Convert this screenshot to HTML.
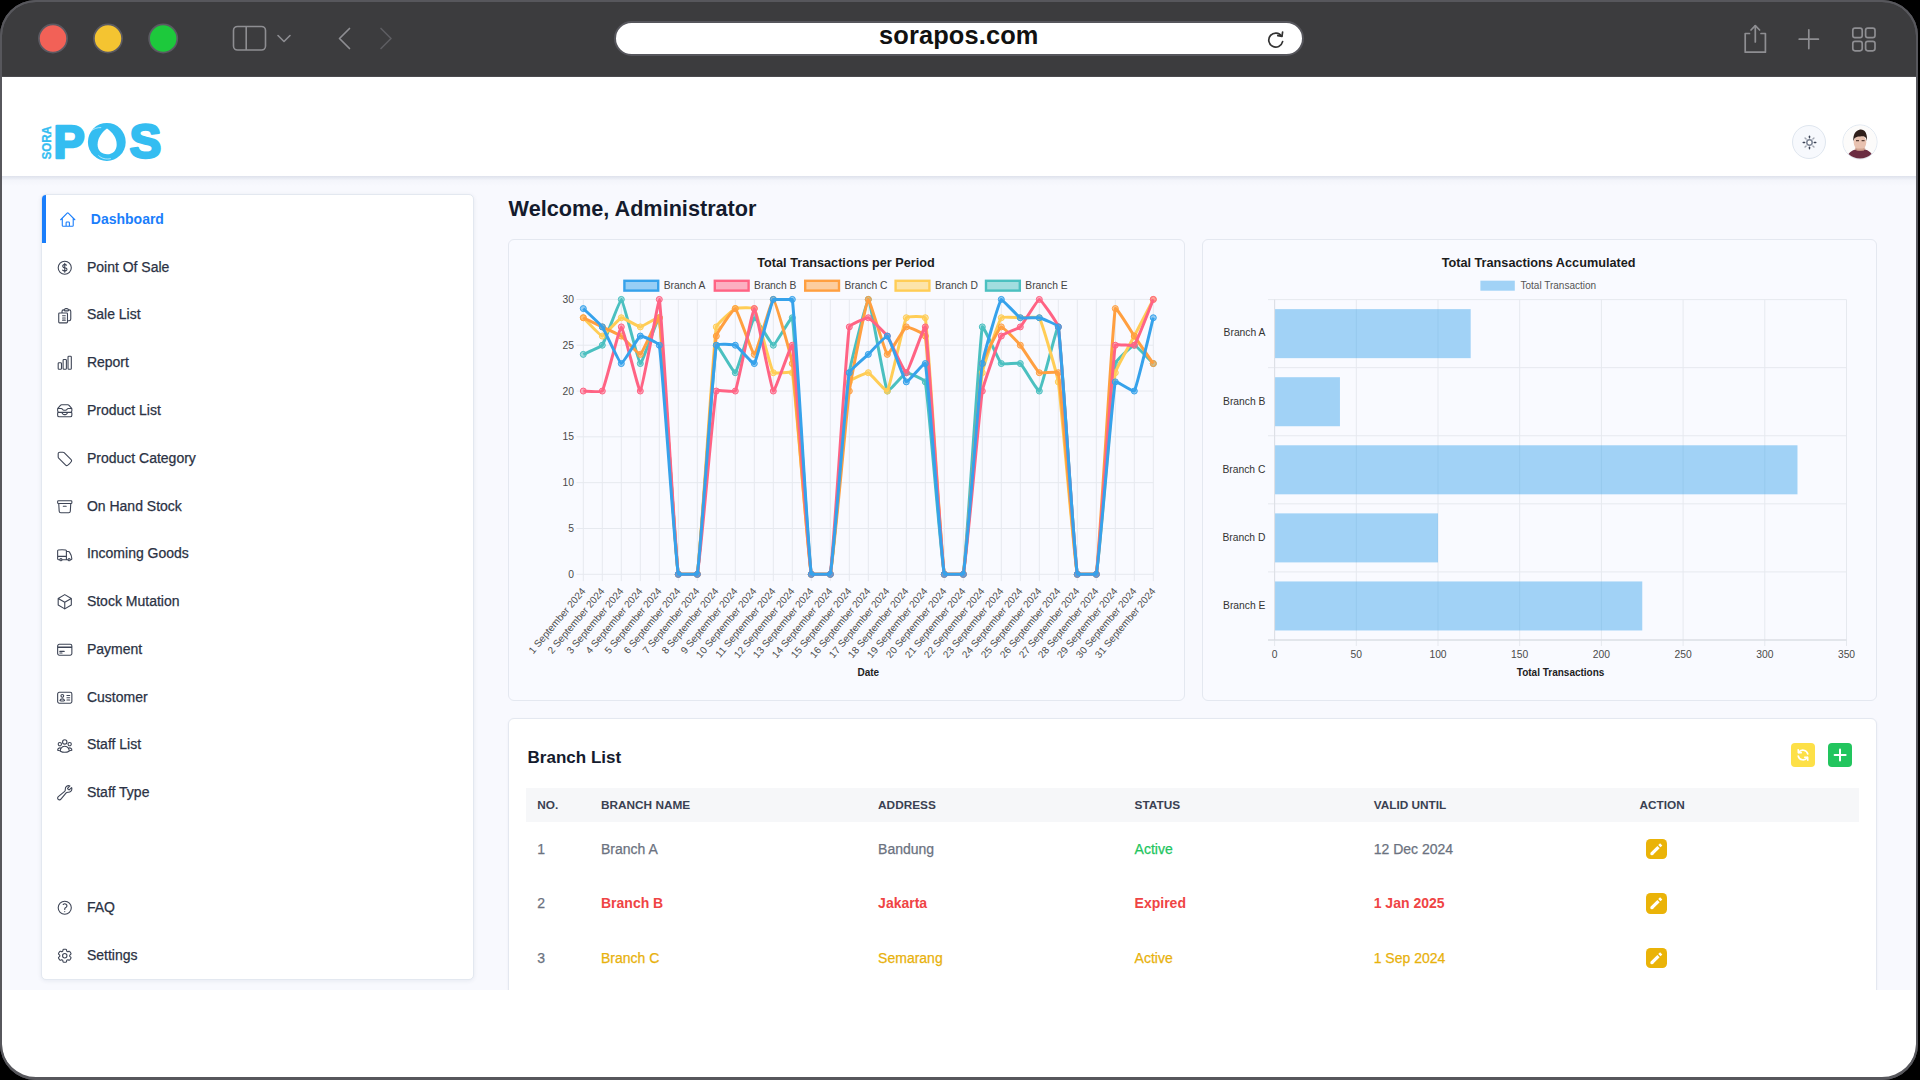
<!DOCTYPE html>
<html><head><meta charset="utf-8"><title>SoraPOS Dashboard</title>
<style>
*{margin:0;padding:0;box-sizing:border-box}
html,body{width:1920px;height:1080px;overflow:hidden;background:#000}
body{font-family:"Liberation Sans",sans-serif;position:relative}
.a{position:absolute}
.t{position:absolute;white-space:nowrap}
.r{-webkit-text-stroke:0.25px currentColor}
#frame{position:absolute;left:0;top:0;width:1918px;height:1080px;border-radius:36px;background:#3c3c3e;overflow:hidden;border:2px solid #57575c}
</style></head><body>
<div id="frame"></div>

<div class="a" style="left:2px;top:77px;width:1914px;height:1001px;background:#fff;border-bottom-left-radius:34px;border-bottom-right-radius:34px"></div>
<div class="a" style="left:2px;top:76px;width:1914px;height:1px;background:#4a4a4e"></div>
<svg class="a" style="left:0px;top:0px;" width="200" height="77" viewBox="0 0 200 77"><circle cx="53" cy="38.5" r="14.1" fill="#f26157" stroke="#5b5a62" stroke-width="1.7"/><circle cx="108" cy="38.5" r="14.1" fill="#f4c431" stroke="#5b5a62" stroke-width="1.7"/><circle cx="163.2" cy="38.5" r="14.1" fill="#1dc93c" stroke="#5b5a62" stroke-width="1.7"/></svg>
<svg class="a" style="left:230px;top:22px;" width="64" height="32" viewBox="0 0 64 32">
<rect x="3.5" y="4.5" width="32" height="23.5" rx="4" fill="none" stroke="#8e8e92" stroke-width="1.6"/>
<line x1="16.2" y1="4.5" x2="16.2" y2="28" stroke="#8e8e92" stroke-width="1.6"/>
<polyline points="48,13.5 54,19.5 60,13.5" fill="none" stroke="#8e8e92" stroke-width="1.6" stroke-linecap="round" stroke-linejoin="round"/>
</svg>
<svg class="a" style="left:330px;top:22px;" width="70" height="32" viewBox="0 0 70 32">
<polyline points="19.5,6.5 9.5,16.5 19.5,26.5" fill="none" stroke="#8e8e92" stroke-width="1.7" stroke-linecap="round" stroke-linejoin="round"/>
<polyline points="51,6.5 61,16.5 51,26.5" fill="none" stroke="#5d5d61" stroke-width="1.7" stroke-linecap="round" stroke-linejoin="round"/>
</svg>
<div class="a" style="left:614px;top:21px;width:690px;height:34.5px;border-radius:17.5px;background:#fff;border:2px solid #56565c"></div>
<div class="t" style="left:879px;top:20px;font-size:25.4px;line-height:30px;font-weight:700;color:#111;letter-spacing:0.14px">sorapos.com</div>
<svg class="a" style="left:1264px;top:27px;" width="24" height="24" viewBox="0 0 24 24">
<path d="M17.6 9.2 A7 7 0 1 0 18.6 14.6" fill="none" stroke="#333" stroke-width="1.7" stroke-linecap="round"/>
<polyline points="13.8,8.6 18.0,9.4 18.6,5.0" fill="none" stroke="#333" stroke-width="1.7" stroke-linecap="round" stroke-linejoin="round"/>
</svg>
<svg class="a" style="left:1740px;top:20px;" width="150" height="40" viewBox="0 0 150 40">
<g fill="none" stroke="#8e8e92" stroke-width="1.7" stroke-linecap="round" stroke-linejoin="round">
<path d="M9.5 13.5 H5.2 V32.2 H25.4 V13.5 H21"/>
<line x1="15.3" y1="5.8" x2="15.3" y2="22"/>
<polyline points="11,10 15.3,5.6 19.6,10"/>
<line x1="68.8" y1="9.8" x2="68.8" y2="28.6"/>
<line x1="59.2" y1="19.2" x2="78.4" y2="19.2"/>
<rect x="112.8" y="8.2" width="9.4" height="9.4" rx="2.2"/>
<rect x="125.6" y="8.2" width="9.4" height="9.4" rx="2.2"/>
<rect x="112.8" y="21.4" width="9.4" height="9.4" rx="2.2"/>
<rect x="125.6" y="21.4" width="9.4" height="9.4" rx="2.2"/>
</g></svg>
<div class="a" style="left:2px;top:176px;width:1914px;height:814px;background:#f8f9fe"></div>
<div class="a" style="left:2px;top:176px;width:1914px;height:10px;background:linear-gradient(to bottom, rgba(200,206,220,0.55), rgba(230,233,242,0.25) 45%, rgba(248,249,254,0))"></div>
<svg class="a" style="left:38px;top:118px;" width="130" height="48" viewBox="0 0 130 48">
<g transform="translate(13.4,41.6) rotate(-90)">
 <text x="0" y="0" font-family="Liberation Sans" font-size="13.6" font-weight="700" fill="#34bdf1" stroke="#34bdf1" stroke-width="0.3" textLength="33.6" lengthAdjust="spacingAndGlyphs">SORA</text>
</g>
<text x="15.5" y="39.7" font-family="Liberation Sans" font-size="47" font-weight="700" fill="#34bdf1" stroke="#34bdf1" stroke-width="2.6" stroke-linejoin="round" textLength="31.2" lengthAdjust="spacingAndGlyphs">P</text>
<ellipse cx="68.8" cy="23.9" rx="18.9" ry="19" fill="#34bdf1"/>
<path d="M69 10.6 C 63.5 14.5, 59.6 20.5, 59.6 26.8 C 59.6 32.6, 63.6 36.2, 69.2 36.2 C 74.8 36.2, 78.7 32.4, 78.7 26.4 C 78.7 20.2, 74.6 14.4, 69 10.6 Z" fill="#fff"/>
<path d="M52.6 13.6 C 55.4 10.6, 59.4 9.4, 63.2 9.6" fill="none" stroke="#fff" stroke-width="0.8" opacity="0.75"/>
<path d="M60.4 37.4 C 63.6 40.6, 68 41.6, 72.8 40.6" fill="none" stroke="#fff" stroke-width="0.8" opacity="0.75"/>
<text x="91.6" y="39.8" font-family="Liberation Sans" font-size="47.5" font-weight="700" fill="#34bdf1" stroke="#34bdf1" stroke-width="2.5" stroke-linejoin="round" textLength="31.8" lengthAdjust="spacingAndGlyphs">S</text>
</svg>
<div class="a" style="left:1792px;top:125px;width:34px;height:34px;border-radius:50%;background:#f7f9fd;border:1px solid #dfe6ef"></div>
<svg class="a" style="left:1795px;top:128px;" width="28" height="28" viewBox="0 0 28 28"><circle cx="14.5" cy="14.5" r="2.7" fill="#fff" stroke="#7c8494" stroke-width="1.5"/><line x1="19.30" y1="14.50" x2="20.80" y2="14.50" stroke="#3c4456" stroke-width="1.4" stroke-linecap="round" opacity="1"/><line x1="17.89" y1="17.89" x2="18.95" y2="18.95" stroke="#3c4456" stroke-width="1.4" stroke-linecap="round" opacity="0.45"/><line x1="14.50" y1="19.30" x2="14.50" y2="20.80" stroke="#3c4456" stroke-width="1.4" stroke-linecap="round" opacity="1"/><line x1="11.11" y1="17.89" x2="10.05" y2="18.95" stroke="#3c4456" stroke-width="1.4" stroke-linecap="round" opacity="0.45"/><line x1="9.70" y1="14.50" x2="8.20" y2="14.50" stroke="#3c4456" stroke-width="1.4" stroke-linecap="round" opacity="1"/><line x1="11.11" y1="11.11" x2="10.05" y2="10.05" stroke="#3c4456" stroke-width="1.4" stroke-linecap="round" opacity="0.45"/><line x1="14.50" y1="9.70" x2="14.50" y2="8.20" stroke="#3c4456" stroke-width="1.4" stroke-linecap="round" opacity="1"/><line x1="17.89" y1="11.11" x2="18.95" y2="10.05" stroke="#3c4456" stroke-width="1.4" stroke-linecap="round" opacity="0.45"/></svg>
<svg class="a" style="left:1842px;top:124px;" width="36" height="36" viewBox="0 0 36 36">
<defs><clipPath id="av"><circle cx="18" cy="18" r="16.6"/></clipPath></defs>
<circle cx="18" cy="18" r="17" fill="#fff" stroke="#dde5ef" stroke-width="1"/>
<g clip-path="url(#av)">
 <rect x="0" y="0" width="36" height="36" fill="#fcfbfa"/>
 <path d="M4.5 36 C 5 29.5, 9.5 26, 14.5 25.2 L 22 25.2 C 27 26, 31 29.5, 31.6 36 Z" fill="#6b2d42"/>
 <rect x="14.6" y="20" width="7.4" height="6.4" fill="#d6a48f"/>
 <ellipse cx="18" cy="18.6" rx="6.3" ry="7.6" fill="#e8c2b0"/>
 <path d="M12.6 25.2 C 14.6 27.6, 21.6 27.6, 23.6 25.2 L 22.6 23.4 C 20.6 25, 15.6 25, 13.6 23.4 Z" fill="#c99a86" opacity="0.7"/>
 <path d="M11.4 17.6 C 10.8 10.6, 13.8 6.2, 18.2 5.6 C 22.4 5.2, 25.6 8.6, 25 17.4 C 24.4 13.2, 23.2 12, 18.2 12.4 C 13.4 12.6, 12.2 13.6, 11.4 17.6 Z" fill="#2f1f1a"/>
 <path d="M14 16.6 h3 M19.6 16.6 h3" stroke="#5a4036" stroke-width="1.1"/>
</g></svg>
<div class="a" style="left:41px;top:194px;width:433px;height:786px;background:#fff;border:1px solid #e3e8f0;border-radius:5px;box-shadow:0 1px 4px rgba(30,50,90,0.08)"></div>
<div class="a" style="left:42px;top:195px;width:3.6px;height:48px;background:#1a7efb;border-top-left-radius:4px"></div>
<svg class="a" style="left:58.80px;top:211.20px" width="17.5" height="17.5" viewBox="0 0 24 24" fill="none" stroke="#1a7efb" stroke-width="1.5" stroke-linecap="round" stroke-linejoin="round"><path d="M2.25 12 11.204 3.045c.44-.439 1.152-.439 1.591 0L21.75 12M4.5 9.75v10.125c0 .621.504 1.125 1.125 1.125H9.75v-4.875c0-.621.504-1.125 1.125-1.125h2.25c.621 0 1.125.504 1.125 1.125V21h4.125c.621 0 1.125-.504 1.125-1.125V9.75M8.25 21h8.25"/></svg>
<div class="t " style="left:90.80px;top:209.95px;font-size:14px;line-height:18px;color:#1a7efb;font-weight:700;">Dashboard</div>
<svg class="a" style="left:55.60px;top:258.96px" width="17.5" height="17.5" viewBox="0 0 24 24" fill="none" stroke="#3e4556" stroke-width="1.5" stroke-linecap="round" stroke-linejoin="round"><path d="M12 6v12m-3-2.818.879.659c1.171.879 3.07.879 4.242 0 1.172-.879 1.172-2.303 0-3.182C13.536 12.219 12.768 12 12 12c-.725 0-1.45-.22-2.003-.659-1.106-.879-1.106-2.303 0-3.182s2.9-.879 4.006 0l.415.33M21 12a9 9 0 1 1-18 0 9 9 0 0 1 18 0Z"/></svg>
<div class="t r" style="left:86.90px;top:257.71px;font-size:14px;line-height:18px;color:#2b3244;">Point Of Sale</div>
<svg class="a" style="left:55.60px;top:306.72px" width="17.5" height="17.5" viewBox="0 0 24 24" fill="none" stroke="#3e4556" stroke-width="1.5" stroke-linecap="round" stroke-linejoin="round"><path d="M9 12h3.75M9 15h3.75M9 18h3.75m3 .75H18a2.25 2.25 0 0 0 2.25-2.25V6.108c0-1.135-.845-2.098-1.976-2.192a48.424 48.424 0 0 0-1.123-.08m-5.801 0c-.065.21-.1.433-.1.664 0 .414.336.75.75.75h4.5a.75.75 0 0 0 .75-.75 2.25 2.25 0 0 0-.1-.664m-5.8 0A2.251 2.251 0 0 1 13.5 2.25H15c1.012 0 1.867.668 2.15 1.586m-5.8 0c-.376.023-.75.05-1.124.08C9.095 4.01 8.25 4.973 8.25 6.108V8.25m0 0H4.875c-.621 0-1.125.504-1.125 1.125v11.25c0 .621.504 1.125 1.125 1.125h9.75c.621 0 1.125-.504 1.125-1.125V9.375c0-.621-.504-1.125-1.125-1.125H8.25Z"/></svg>
<div class="t r" style="left:86.90px;top:305.47px;font-size:14px;line-height:18px;color:#2b3244;">Sale List</div>
<svg class="a" style="left:55.60px;top:354.48px" width="17.5" height="17.5" viewBox="0 0 24 24" fill="none" stroke="#3e4556" stroke-width="1.5" stroke-linecap="round" stroke-linejoin="round"><path d="M3 13.125C3 12.504 3.504 12 4.125 12h2.25c.621 0 1.125.504 1.125 1.125v6.75C7.5 20.496 6.996 21 6.375 21h-2.25A1.125 1.125 0 0 1 3 19.875v-6.75ZM9.75 8.625c0-.621.504-1.125 1.125-1.125h2.25c.621 0 1.125.504 1.125 1.125v11.25c0 .621-.504 1.125-1.125 1.125h-2.25a1.125 1.125 0 0 1-1.125-1.125V8.625ZM16.5 4.125c0-.621.504-1.125 1.125-1.125h2.25C20.496 3 21 3.504 21 4.125v15.75c0 .621-.504 1.125-1.125 1.125h-2.25a1.125 1.125 0 0 1-1.125-1.125V4.125Z"/></svg>
<div class="t r" style="left:86.90px;top:353.23px;font-size:14px;line-height:18px;color:#2b3244;">Report</div>
<svg class="a" style="left:55.60px;top:402.24px" width="17.5" height="17.5" viewBox="0 0 24 24" fill="none" stroke="#3e4556" stroke-width="1.5" stroke-linecap="round" stroke-linejoin="round"><path d="m7.875 14.25 1.214 1.942a2.25 2.25 0 0 0 1.908 1.058h2.006c.776 0 1.497-.4 1.908-1.058l1.214-1.942M2.41 9h4.636a2.25 2.25 0 0 1 1.872 1.002l.164.246a2.25 2.25 0 0 0 1.872 1.002h2.092a2.25 2.25 0 0 0 1.872-1.002l.164-.246A2.25 2.25 0 0 1 16.954 9h4.636M2.41 9a2.25 2.25 0 0 0-.16.832V12a2.25 2.25 0 0 0 2.25 2.25h15A2.25 2.25 0 0 0 21.75 12V9.832c0-.287-.055-.57-.16-.832M2.41 9a2.25 2.25 0 0 1 .382-.632l3.285-3.832a2.25 2.25 0 0 1 1.708-.786h8.43c.657 0 1.281.287 1.709.786l3.284 3.832c.163.19.291.404.382.632M4.5 20.25h15A2.25 2.25 0 0 0 21.75 18v-2.625c0-.621-.504-1.125-1.125-1.125H3.375c-.621 0-1.125.504-1.125 1.125V18a2.25 2.25 0 0 0 2.25 2.25Z"/></svg>
<div class="t r" style="left:86.90px;top:400.99px;font-size:14px;line-height:18px;color:#2b3244;">Product List</div>
<svg class="a" style="left:55.60px;top:450.00px" width="17.5" height="17.5" viewBox="0 0 24 24" fill="none" stroke="#3e4556" stroke-width="1.5" stroke-linecap="round" stroke-linejoin="round"><path d="M9.568 3H5.25A2.25 2.25 0 0 0 3 5.25v4.318c0 .597.237 1.17.659 1.591l9.581 9.581c.699.699 1.78.872 2.607.33a18.095 18.095 0 0 0 5.223-5.223c.542-.827.369-1.908-.33-2.607L11.16 3.66A2.25 2.25 0 0 0 9.568 3Z"/></svg>
<div class="t r" style="left:86.90px;top:448.75px;font-size:14px;line-height:18px;color:#2b3244;">Product Category</div>
<svg class="a" style="left:55.60px;top:497.76px" width="17.5" height="17.5" viewBox="0 0 24 24" fill="none" stroke="#3e4556" stroke-width="1.5" stroke-linecap="round" stroke-linejoin="round"><path d="m20.25 7.5-.625 10.632a2.25 2.25 0 0 1-2.247 2.118H6.622a2.25 2.25 0 0 1-2.247-2.118L3.75 7.5M10 11.25h4M3.375 7.5h17.25c.621 0 1.125-.504 1.125-1.125v-1.5c0-.621-.504-1.125-1.125-1.125H3.375c-.621 0-1.125.504-1.125 1.125v1.5c0 .621.504 1.125 1.125 1.125Z"/></svg>
<div class="t r" style="left:86.90px;top:496.51px;font-size:14px;line-height:18px;color:#2b3244;">On Hand Stock</div>
<svg class="a" style="left:55.60px;top:545.52px" width="17.5" height="17.5" viewBox="0 0 24 24" fill="none" stroke="#3e4556" stroke-width="1.5" stroke-linecap="round" stroke-linejoin="round"><path d="M8.25 18.75a1.5 1.5 0 0 1-3 0m3 0a1.5 1.5 0 0 0-3 0m3 0h6m-9 0H3.375a1.125 1.125 0 0 1-1.125-1.125V14.25m17.25 4.5a1.5 1.5 0 0 1-3 0m3 0a1.5 1.5 0 0 0-3 0m3 0h1.125c.621 0 1.129-.504 1.09-1.124a17.902 17.902 0 0 0-3.213-9.193 2.056 2.056 0 0 0-1.58-.86H14.25M16.5 18.75h-2.25m0-11.177v-.958c0-.568-.422-1.048-.987-1.106a48.554 48.554 0 0 0-10.026 0 1.106 1.106 0 0 0-.987 1.106v7.635m12-6.677v6.677m0 4.5v-4.5m0 0h-12"/></svg>
<div class="t r" style="left:86.90px;top:544.27px;font-size:14px;line-height:18px;color:#2b3244;">Incoming Goods</div>
<svg class="a" style="left:55.60px;top:593.28px" width="17.5" height="17.5" viewBox="0 0 24 24" fill="none" stroke="#3e4556" stroke-width="1.5" stroke-linecap="round" stroke-linejoin="round"><path d="m21 7.5-9-5.25L3 7.5m18 0-9 5.25m9-5.25v9l-9 5.25M3 7.5l9 5.25M3 7.5v9l9 5.25m0-9v9"/></svg>
<div class="t r" style="left:86.90px;top:592.03px;font-size:14px;line-height:18px;color:#2b3244;">Stock Mutation</div>
<svg class="a" style="left:55.60px;top:641.04px" width="17.5" height="17.5" viewBox="0 0 24 24" fill="none" stroke="#3e4556" stroke-width="1.5" stroke-linecap="round" stroke-linejoin="round"><path d="M2.25 8.25h19.5M2.25 9h19.5m-16.5 5.25h6m-6 2.25h3m-3.75 3h15a2.25 2.25 0 0 0 2.25-2.25V6.75A2.25 2.25 0 0 0 19.5 4.5h-15a2.25 2.25 0 0 0-2.25 2.25v10.5A2.25 2.25 0 0 0 4.5 19.5Z"/></svg>
<div class="t r" style="left:86.90px;top:639.79px;font-size:14px;line-height:18px;color:#2b3244;">Payment</div>
<svg class="a" style="left:55.60px;top:688.80px" width="17.5" height="17.5" viewBox="0 0 24 24" fill="none" stroke="#3e4556" stroke-width="1.5" stroke-linecap="round" stroke-linejoin="round"><path d="M15 9h3.75M15 12h3.75M15 15h3.75M4.5 19.5h15a2.25 2.25 0 0 0 2.25-2.25V6.75A2.25 2.25 0 0 0 19.5 4.5h-15a2.25 2.25 0 0 0-2.25 2.25v10.5A2.25 2.25 0 0 0 4.5 19.5Zm6-10.125a1.875 1.875 0 1 1-3.75 0 1.875 1.875 0 0 1 3.75 0Zm1.294 6.336a6.721 6.721 0 0 1-3.17.789 6.721 6.721 0 0 1-3.168-.789 3.376 3.376 0 0 1 6.338 0Z"/></svg>
<div class="t r" style="left:86.90px;top:687.55px;font-size:14px;line-height:18px;color:#2b3244;">Customer</div>
<svg class="a" style="left:55.60px;top:736.56px" width="17.5" height="17.5" viewBox="0 0 24 24" fill="none" stroke="#3e4556" stroke-width="1.5" stroke-linecap="round" stroke-linejoin="round"><path d="M18 18.72a9.094 9.094 0 0 0 3.741-.479 3 3 0 0 0-4.682-2.72m.94 3.198.001.031c0 .225-.012.447-.037.666A11.944 11.944 0 0 1 12 21c-2.17 0-4.207-.576-5.963-1.584A6.062 6.062 0 0 1 6 18.719m12 0a5.971 5.971 0 0 0-.941-3.197m0 0A5.995 5.995 0 0 0 12 12.75a5.995 5.995 0 0 0-5.058 2.772m0 0a3 3 0 0 0-4.681 2.72 8.986 8.986 0 0 0 3.74.477m.94-3.197a5.971 5.971 0 0 0-.94 3.197M15 6.75a3 3 0 1 1-6 0 3 3 0 0 1 6 0Zm6 3a2.25 2.25 0 1 1-4.5 0 2.25 2.25 0 0 1 4.5 0Zm-13.5 0a2.25 2.25 0 1 1-4.5 0 2.25 2.25 0 0 1 4.5 0Z"/></svg>
<div class="t r" style="left:86.90px;top:735.31px;font-size:14px;line-height:18px;color:#2b3244;">Staff List</div>
<svg class="a" style="left:55.60px;top:784.32px" width="17.5" height="17.5" viewBox="0 0 24 24" fill="none" stroke="#3e4556" stroke-width="1.5" stroke-linecap="round" stroke-linejoin="round"><path d="M21.75 6.75a4.5 4.5 0 0 1-4.884 4.484c-1.076-.091-2.264.071-2.95.904l-7.152 8.684a2.548 2.548 0 1 1-3.586-3.586l8.684-7.152c.833-.686.995-1.874.904-2.95a4.5 4.5 0 0 1 6.336-4.486l-3.276 3.276a3.004 3.004 0 0 0 2.25 2.25l3.276-3.276c.256.565.398 1.192.398 1.852Z"/></svg>
<div class="t r" style="left:86.90px;top:783.07px;font-size:14px;line-height:18px;color:#2b3244;">Staff Type</div>
<svg class="a" style="left:55.60px;top:898.85px" width="17.5" height="17.5" viewBox="0 0 24 24" fill="none" stroke="#3e4556" stroke-width="1.5" stroke-linecap="round" stroke-linejoin="round"><path d="M9.879 7.519c1.171-1.025 3.071-1.025 4.242 0 1.172 1.025 1.172 2.687 0 3.712-.203.179-.43.326-.67.442-.745.361-1.45.999-1.45 1.827v.75M21 12a9 9 0 1 1-18 0 9 9 0 0 1 18 0Zm-9 5.25h.008v.008H12v-.008Z"/></svg>
<div class="t r" style="left:86.90px;top:897.60px;font-size:14px;line-height:18px;color:#2b3244;">FAQ</div>
<svg class="a" style="left:55.60px;top:946.75px" width="17.5" height="17.5" viewBox="0 0 24 24" fill="none" stroke="#3e4556" stroke-width="1.5" stroke-linecap="round" stroke-linejoin="round"><path d="M9.594 3.94c.09-.542.56-.94 1.11-.94h2.593c.55 0 1.02.398 1.11.94l.213 1.281c.063.374.313.686.645.87.074.04.147.083.22.127.325.196.72.257 1.075.124l1.217-.456a1.125 1.125 0 0 1 1.37.49l1.296 2.247a1.125 1.125 0 0 1-.26 1.431l-1.003.827c-.293.241-.438.613-.43.992a7.723 7.723 0 0 1 0 .255c-.008.378.137.75.43.991l1.004.827c.424.35.534.955.26 1.43l-1.298 2.247a1.125 1.125 0 0 1-1.369.491l-1.217-.456c-.355-.133-.75-.072-1.076.124a6.47 6.47 0 0 1-.22.128c-.331.183-.581.495-.644.869l-.213 1.281c-.09.543-.56.94-1.11.94h-2.594c-.55 0-1.019-.398-1.11-.94l-.213-1.281c-.062-.374-.312-.686-.644-.87a6.52 6.52 0 0 1-.22-.127c-.325-.196-.72-.257-1.076-.124l-1.217.456a1.125 1.125 0 0 1-1.369-.49l-1.297-2.247a1.125 1.125 0 0 1 .26-1.431l1.004-.827c.292-.24.437-.613.43-.991a6.932 6.932 0 0 1 0-.255c.007-.38-.138-.751-.43-.992l-1.004-.827a1.125 1.125 0 0 1-.26-1.43l1.297-2.247a1.125 1.125 0 0 1 1.37-.491l1.216.456c.356.133.751.072 1.076-.124.072-.044.146-.086.22-.128.332-.183.582-.495.644-.869l.214-1.28ZM15 12a3 3 0 1 1-6 0 3 3 0 0 1 6 0Z"/></svg>
<div class="t r" style="left:86.90px;top:945.50px;font-size:14px;line-height:18px;color:#2b3244;">Settings</div>
<div class="t " style="left:508.60px;top:195.10px;font-size:21.67px;line-height:28px;color:#141b2d;font-weight:700;">Welcome, Administrator</div>
<div class="a" style="left:508px;top:239px;width:676.5px;height:462px;border:1px solid #e4e8f0;border-radius:6px;background:#f9faff"></div>
<div class="a" style="left:1202px;top:239px;width:674.5px;height:462px;border:1px solid #e4e8f0;border-radius:6px;background:#f9faff"></div>
<svg class="a" style="left:0;top:0" width="1920" height="1080" viewBox="0 0 1920 1080" font-family="Liberation Sans, sans-serif"><line x1="576.5" y1="574.30" x2="1153.3" y2="574.30" stroke="#e6e9ef" stroke-width="1"/><text x="574.0" y="577.84" text-anchor="end" font-size="10.3" fill="#4a4a4a">0</text><line x1="576.5" y1="528.48" x2="1153.3" y2="528.48" stroke="#e6e9ef" stroke-width="1"/><text x="574.0" y="532.03" text-anchor="end" font-size="10.3" fill="#4a4a4a">5</text><line x1="576.5" y1="482.67" x2="1153.3" y2="482.67" stroke="#e6e9ef" stroke-width="1"/><text x="574.0" y="486.21" text-anchor="end" font-size="10.3" fill="#4a4a4a">10</text><line x1="576.5" y1="436.85" x2="1153.3" y2="436.85" stroke="#e6e9ef" stroke-width="1"/><text x="574.0" y="440.40" text-anchor="end" font-size="10.3" fill="#4a4a4a">15</text><line x1="576.5" y1="391.04" x2="1153.3" y2="391.04" stroke="#e6e9ef" stroke-width="1"/><text x="574.0" y="394.58" text-anchor="end" font-size="10.3" fill="#4a4a4a">20</text><line x1="576.5" y1="345.22" x2="1153.3" y2="345.22" stroke="#e6e9ef" stroke-width="1"/><text x="574.0" y="348.77" text-anchor="end" font-size="10.3" fill="#4a4a4a">25</text><line x1="576.5" y1="299.41" x2="1153.3" y2="299.41" stroke="#e6e9ef" stroke-width="1"/><text x="574.0" y="302.95" text-anchor="end" font-size="10.3" fill="#4a4a4a">30</text><line x1="583.30" y1="299.41" x2="583.30" y2="581.10" stroke="#e6e9ef" stroke-width="1"/><text transform="translate(583.40,589.20) rotate(-50)" x="0" y="3.44" text-anchor="end" font-size="10" fill="#4a4a4a">1 September 2024</text><line x1="602.30" y1="299.41" x2="602.30" y2="581.10" stroke="#e6e9ef" stroke-width="1"/><text transform="translate(602.40,589.20) rotate(-50)" x="0" y="3.44" text-anchor="end" font-size="10" fill="#4a4a4a">2 September 2024</text><line x1="621.30" y1="299.41" x2="621.30" y2="581.10" stroke="#e6e9ef" stroke-width="1"/><text transform="translate(621.40,589.20) rotate(-50)" x="0" y="3.44" text-anchor="end" font-size="10" fill="#4a4a4a">3 September 2024</text><line x1="640.30" y1="299.41" x2="640.30" y2="581.10" stroke="#e6e9ef" stroke-width="1"/><text transform="translate(640.40,589.20) rotate(-50)" x="0" y="3.44" text-anchor="end" font-size="10" fill="#4a4a4a">4 September 2024</text><line x1="659.30" y1="299.41" x2="659.30" y2="581.10" stroke="#e6e9ef" stroke-width="1"/><text transform="translate(659.40,589.20) rotate(-50)" x="0" y="3.44" text-anchor="end" font-size="10" fill="#4a4a4a">5 September 2024</text><line x1="678.30" y1="299.41" x2="678.30" y2="581.10" stroke="#e6e9ef" stroke-width="1"/><text transform="translate(678.40,589.20) rotate(-50)" x="0" y="3.44" text-anchor="end" font-size="10" fill="#4a4a4a">6 September 2024</text><line x1="697.30" y1="299.41" x2="697.30" y2="581.10" stroke="#e6e9ef" stroke-width="1"/><text transform="translate(697.40,589.20) rotate(-50)" x="0" y="3.44" text-anchor="end" font-size="10" fill="#4a4a4a">7 September 2024</text><line x1="716.30" y1="299.41" x2="716.30" y2="581.10" stroke="#e6e9ef" stroke-width="1"/><text transform="translate(716.40,589.20) rotate(-50)" x="0" y="3.44" text-anchor="end" font-size="10" fill="#4a4a4a">8 September 2024</text><line x1="735.30" y1="299.41" x2="735.30" y2="581.10" stroke="#e6e9ef" stroke-width="1"/><text transform="translate(735.40,589.20) rotate(-50)" x="0" y="3.44" text-anchor="end" font-size="10" fill="#4a4a4a">9 September 2024</text><line x1="754.30" y1="299.41" x2="754.30" y2="581.10" stroke="#e6e9ef" stroke-width="1"/><text transform="translate(754.40,589.20) rotate(-50)" x="0" y="3.44" text-anchor="end" font-size="10" fill="#4a4a4a">10 September 2024</text><line x1="773.30" y1="299.41" x2="773.30" y2="581.10" stroke="#e6e9ef" stroke-width="1"/><text transform="translate(773.40,589.20) rotate(-50)" x="0" y="3.44" text-anchor="end" font-size="10" fill="#4a4a4a">11 September 2024</text><line x1="792.30" y1="299.41" x2="792.30" y2="581.10" stroke="#e6e9ef" stroke-width="1"/><text transform="translate(792.40,589.20) rotate(-50)" x="0" y="3.44" text-anchor="end" font-size="10" fill="#4a4a4a">12 September 2024</text><line x1="811.30" y1="299.41" x2="811.30" y2="581.10" stroke="#e6e9ef" stroke-width="1"/><text transform="translate(811.40,589.20) rotate(-50)" x="0" y="3.44" text-anchor="end" font-size="10" fill="#4a4a4a">13 September 2024</text><line x1="830.30" y1="299.41" x2="830.30" y2="581.10" stroke="#e6e9ef" stroke-width="1"/><text transform="translate(830.40,589.20) rotate(-50)" x="0" y="3.44" text-anchor="end" font-size="10" fill="#4a4a4a">14 September 2024</text><line x1="849.30" y1="299.41" x2="849.30" y2="581.10" stroke="#e6e9ef" stroke-width="1"/><text transform="translate(849.40,589.20) rotate(-50)" x="0" y="3.44" text-anchor="end" font-size="10" fill="#4a4a4a">15 September 2024</text><line x1="868.30" y1="299.41" x2="868.30" y2="581.10" stroke="#e6e9ef" stroke-width="1"/><text transform="translate(868.40,589.20) rotate(-50)" x="0" y="3.44" text-anchor="end" font-size="10" fill="#4a4a4a">16 September 2024</text><line x1="887.30" y1="299.41" x2="887.30" y2="581.10" stroke="#e6e9ef" stroke-width="1"/><text transform="translate(887.40,589.20) rotate(-50)" x="0" y="3.44" text-anchor="end" font-size="10" fill="#4a4a4a">17 September 2024</text><line x1="906.30" y1="299.41" x2="906.30" y2="581.10" stroke="#e6e9ef" stroke-width="1"/><text transform="translate(906.40,589.20) rotate(-50)" x="0" y="3.44" text-anchor="end" font-size="10" fill="#4a4a4a">18 September 2024</text><line x1="925.30" y1="299.41" x2="925.30" y2="581.10" stroke="#e6e9ef" stroke-width="1"/><text transform="translate(925.40,589.20) rotate(-50)" x="0" y="3.44" text-anchor="end" font-size="10" fill="#4a4a4a">19 September 2024</text><line x1="944.30" y1="299.41" x2="944.30" y2="581.10" stroke="#e6e9ef" stroke-width="1"/><text transform="translate(944.40,589.20) rotate(-50)" x="0" y="3.44" text-anchor="end" font-size="10" fill="#4a4a4a">20 September 2024</text><line x1="963.30" y1="299.41" x2="963.30" y2="581.10" stroke="#e6e9ef" stroke-width="1"/><text transform="translate(963.40,589.20) rotate(-50)" x="0" y="3.44" text-anchor="end" font-size="10" fill="#4a4a4a">21 September 2024</text><line x1="982.30" y1="299.41" x2="982.30" y2="581.10" stroke="#e6e9ef" stroke-width="1"/><text transform="translate(982.40,589.20) rotate(-50)" x="0" y="3.44" text-anchor="end" font-size="10" fill="#4a4a4a">22 September 2024</text><line x1="1001.30" y1="299.41" x2="1001.30" y2="581.10" stroke="#e6e9ef" stroke-width="1"/><text transform="translate(1001.40,589.20) rotate(-50)" x="0" y="3.44" text-anchor="end" font-size="10" fill="#4a4a4a">23 September 2024</text><line x1="1020.30" y1="299.41" x2="1020.30" y2="581.10" stroke="#e6e9ef" stroke-width="1"/><text transform="translate(1020.40,589.20) rotate(-50)" x="0" y="3.44" text-anchor="end" font-size="10" fill="#4a4a4a">24 September 2024</text><line x1="1039.30" y1="299.41" x2="1039.30" y2="581.10" stroke="#e6e9ef" stroke-width="1"/><text transform="translate(1039.40,589.20) rotate(-50)" x="0" y="3.44" text-anchor="end" font-size="10" fill="#4a4a4a">25 September 2024</text><line x1="1058.30" y1="299.41" x2="1058.30" y2="581.10" stroke="#e6e9ef" stroke-width="1"/><text transform="translate(1058.40,589.20) rotate(-50)" x="0" y="3.44" text-anchor="end" font-size="10" fill="#4a4a4a">26 September 2024</text><line x1="1077.30" y1="299.41" x2="1077.30" y2="581.10" stroke="#e6e9ef" stroke-width="1"/><text transform="translate(1077.40,589.20) rotate(-50)" x="0" y="3.44" text-anchor="end" font-size="10" fill="#4a4a4a">27 September 2024</text><line x1="1096.30" y1="299.41" x2="1096.30" y2="581.10" stroke="#e6e9ef" stroke-width="1"/><text transform="translate(1096.40,589.20) rotate(-50)" x="0" y="3.44" text-anchor="end" font-size="10" fill="#4a4a4a">28 September 2024</text><line x1="1115.30" y1="299.41" x2="1115.30" y2="581.10" stroke="#e6e9ef" stroke-width="1"/><text transform="translate(1115.40,589.20) rotate(-50)" x="0" y="3.44" text-anchor="end" font-size="10" fill="#4a4a4a">29 September 2024</text><line x1="1134.30" y1="299.41" x2="1134.30" y2="581.10" stroke="#e6e9ef" stroke-width="1"/><text transform="translate(1134.40,589.20) rotate(-50)" x="0" y="3.44" text-anchor="end" font-size="10" fill="#4a4a4a">30 September 2024</text><line x1="1153.30" y1="299.41" x2="1153.30" y2="581.10" stroke="#e6e9ef" stroke-width="1"/><text transform="translate(1153.40,589.20) rotate(-50)" x="0" y="3.44" text-anchor="end" font-size="10" fill="#4a4a4a">31 September 2024</text><path d="M583.30,354.39 C585.20,353.47 601.17,346.87 602.30,345.22 C604.97,341.37 619.68,299.41 621.30,299.41 C623.48,300.46 638.12,362.50 640.30,363.55 C641.92,364.33 658.69,314.33 659.30,317.74 C662.49,335.40 674.76,550.41 678.30,574.30 C678.56,574.30 697.01,574.30 697.30,574.30 C700.81,553.14 712.98,362.82 716.30,345.22 C716.78,342.67 733.91,373.72 735.30,372.71 C737.71,370.97 751.89,319.48 754.30,317.74 C755.69,316.73 771.40,345.22 773.30,345.22 C775.20,345.22 791.86,315.10 792.30,317.74 C795.66,338.01 807.76,550.41 811.30,574.30 C811.56,574.30 829.97,574.30 830.30,574.30 C833.77,555.87 846.53,392.72 849.30,372.71 C850.33,365.23 866.60,299.41 868.30,299.41 C870.40,300.42 884.34,385.32 887.30,391.04 C888.14,392.65 904.19,373.22 906.30,372.71 C907.99,372.31 924.93,379.89 925.30,381.88 C928.73,400.05 940.84,556.78 944.30,574.30 C944.64,574.30 963.03,574.30 963.30,574.30 C966.83,551.32 979.04,344.97 982.30,326.90 C982.84,323.89 998.70,361.04 1001.30,363.55 C1002.50,364.71 1018.92,362.55 1020.30,363.55 C1022.72,365.30 1038.03,392.26 1039.30,391.04 C1041.83,388.60 1057.49,323.01 1058.30,326.90 C1061.29,341.33 1073.77,551.32 1077.30,574.30 C1077.57,574.30 1095.99,574.30 1096.30,574.30 C1099.79,554.96 1111.92,383.92 1115.30,363.55 C1115.72,361.01 1132.40,345.22 1134.30,345.22 C1136.20,345.22 1151.40,361.72 1153.30,363.55" fill="none" stroke="rgb(75,192,192)" stroke-width="3" stroke-linejoin="round"/><circle cx="583.30" cy="354.39" r="3" fill="rgba(75,192,192,0.5)" stroke="rgb(75,192,192)" stroke-width="1"/><circle cx="602.30" cy="345.22" r="3" fill="rgba(75,192,192,0.5)" stroke="rgb(75,192,192)" stroke-width="1"/><circle cx="621.30" cy="299.41" r="3" fill="rgba(75,192,192,0.5)" stroke="rgb(75,192,192)" stroke-width="1"/><circle cx="640.30" cy="363.55" r="3" fill="rgba(75,192,192,0.5)" stroke="rgb(75,192,192)" stroke-width="1"/><circle cx="659.30" cy="317.74" r="3" fill="rgba(75,192,192,0.5)" stroke="rgb(75,192,192)" stroke-width="1"/><circle cx="678.30" cy="574.30" r="3" fill="rgba(75,192,192,0.5)" stroke="rgb(75,192,192)" stroke-width="1"/><circle cx="697.30" cy="574.30" r="3" fill="rgba(75,192,192,0.5)" stroke="rgb(75,192,192)" stroke-width="1"/><circle cx="716.30" cy="345.22" r="3" fill="rgba(75,192,192,0.5)" stroke="rgb(75,192,192)" stroke-width="1"/><circle cx="735.30" cy="372.71" r="3" fill="rgba(75,192,192,0.5)" stroke="rgb(75,192,192)" stroke-width="1"/><circle cx="754.30" cy="317.74" r="3" fill="rgba(75,192,192,0.5)" stroke="rgb(75,192,192)" stroke-width="1"/><circle cx="773.30" cy="345.22" r="3" fill="rgba(75,192,192,0.5)" stroke="rgb(75,192,192)" stroke-width="1"/><circle cx="792.30" cy="317.74" r="3" fill="rgba(75,192,192,0.5)" stroke="rgb(75,192,192)" stroke-width="1"/><circle cx="811.30" cy="574.30" r="3" fill="rgba(75,192,192,0.5)" stroke="rgb(75,192,192)" stroke-width="1"/><circle cx="830.30" cy="574.30" r="3" fill="rgba(75,192,192,0.5)" stroke="rgb(75,192,192)" stroke-width="1"/><circle cx="849.30" cy="372.71" r="3" fill="rgba(75,192,192,0.5)" stroke="rgb(75,192,192)" stroke-width="1"/><circle cx="868.30" cy="299.41" r="3" fill="rgba(75,192,192,0.5)" stroke="rgb(75,192,192)" stroke-width="1"/><circle cx="887.30" cy="391.04" r="3" fill="rgba(75,192,192,0.5)" stroke="rgb(75,192,192)" stroke-width="1"/><circle cx="906.30" cy="372.71" r="3" fill="rgba(75,192,192,0.5)" stroke="rgb(75,192,192)" stroke-width="1"/><circle cx="925.30" cy="381.88" r="3" fill="rgba(75,192,192,0.5)" stroke="rgb(75,192,192)" stroke-width="1"/><circle cx="944.30" cy="574.30" r="3" fill="rgba(75,192,192,0.5)" stroke="rgb(75,192,192)" stroke-width="1"/><circle cx="963.30" cy="574.30" r="3" fill="rgba(75,192,192,0.5)" stroke="rgb(75,192,192)" stroke-width="1"/><circle cx="982.30" cy="326.90" r="3" fill="rgba(75,192,192,0.5)" stroke="rgb(75,192,192)" stroke-width="1"/><circle cx="1001.30" cy="363.55" r="3" fill="rgba(75,192,192,0.5)" stroke="rgb(75,192,192)" stroke-width="1"/><circle cx="1020.30" cy="363.55" r="3" fill="rgba(75,192,192,0.5)" stroke="rgb(75,192,192)" stroke-width="1"/><circle cx="1039.30" cy="391.04" r="3" fill="rgba(75,192,192,0.5)" stroke="rgb(75,192,192)" stroke-width="1"/><circle cx="1058.30" cy="326.90" r="3" fill="rgba(75,192,192,0.5)" stroke="rgb(75,192,192)" stroke-width="1"/><circle cx="1077.30" cy="574.30" r="3" fill="rgba(75,192,192,0.5)" stroke="rgb(75,192,192)" stroke-width="1"/><circle cx="1096.30" cy="574.30" r="3" fill="rgba(75,192,192,0.5)" stroke="rgb(75,192,192)" stroke-width="1"/><circle cx="1115.30" cy="363.55" r="3" fill="rgba(75,192,192,0.5)" stroke="rgb(75,192,192)" stroke-width="1"/><circle cx="1134.30" cy="345.22" r="3" fill="rgba(75,192,192,0.5)" stroke="rgb(75,192,192)" stroke-width="1"/><circle cx="1153.30" cy="363.55" r="3" fill="rgba(75,192,192,0.5)" stroke="rgb(75,192,192)" stroke-width="1"/><path d="M583.30,317.74 C585.20,319.57 600.40,336.06 602.30,336.06 C604.20,336.06 619.19,318.25 621.30,317.74 C622.99,317.33 638.40,326.90 640.30,326.90 C642.20,326.90 659.01,315.86 659.30,317.74 C662.81,340.60 674.76,550.41 678.30,574.30 C678.56,574.30 697.03,574.30 697.30,574.30 C700.83,551.32 712.87,350.92 716.30,326.90 C716.67,324.34 733.09,309.64 735.30,308.57 C736.89,307.81 753.46,307.15 754.30,308.57 C757.26,313.57 770.34,367.72 773.30,372.71 C774.14,374.13 791.97,370.98 792.30,372.71 C795.77,391.14 807.83,555.87 811.30,574.30 C811.63,574.30 829.96,574.30 830.30,574.30 C833.76,556.78 845.87,400.05 849.30,381.88 C849.67,379.89 866.61,372.31 868.30,372.71 C870.41,373.22 886.32,392.46 887.30,391.04 C890.12,386.96 903.26,323.60 906.30,317.74 C907.06,316.27 925.04,315.97 925.30,317.74 C928.84,341.63 940.76,550.41 944.30,574.30 C944.56,574.30 962.97,574.30 963.30,574.30 C966.77,555.87 979.35,392.64 982.30,372.71 C983.15,366.99 998.44,321.88 1001.30,317.74 C1002.24,316.38 1018.40,317.74 1020.30,317.74 C1022.20,317.74 1038.46,316.32 1039.30,317.74 C1042.26,322.73 1057.32,375.28 1058.30,381.88 C1061.12,400.94 1073.84,556.78 1077.30,574.30 C1077.64,574.30 1095.97,574.30 1096.30,574.30 C1099.77,555.87 1112.14,392.50 1115.30,372.71 C1115.94,368.68 1132.40,339.73 1134.30,336.06 C1136.20,332.40 1151.40,303.08 1153.30,299.41" fill="none" stroke="rgb(255,205,86)" stroke-width="3" stroke-linejoin="round"/><circle cx="583.30" cy="317.74" r="3" fill="rgba(255,205,86,0.5)" stroke="rgb(255,205,86)" stroke-width="1"/><circle cx="602.30" cy="336.06" r="3" fill="rgba(255,205,86,0.5)" stroke="rgb(255,205,86)" stroke-width="1"/><circle cx="621.30" cy="317.74" r="3" fill="rgba(255,205,86,0.5)" stroke="rgb(255,205,86)" stroke-width="1"/><circle cx="640.30" cy="326.90" r="3" fill="rgba(255,205,86,0.5)" stroke="rgb(255,205,86)" stroke-width="1"/><circle cx="659.30" cy="317.74" r="3" fill="rgba(255,205,86,0.5)" stroke="rgb(255,205,86)" stroke-width="1"/><circle cx="678.30" cy="574.30" r="3" fill="rgba(255,205,86,0.5)" stroke="rgb(255,205,86)" stroke-width="1"/><circle cx="697.30" cy="574.30" r="3" fill="rgba(255,205,86,0.5)" stroke="rgb(255,205,86)" stroke-width="1"/><circle cx="716.30" cy="326.90" r="3" fill="rgba(255,205,86,0.5)" stroke="rgb(255,205,86)" stroke-width="1"/><circle cx="735.30" cy="308.57" r="3" fill="rgba(255,205,86,0.5)" stroke="rgb(255,205,86)" stroke-width="1"/><circle cx="754.30" cy="308.57" r="3" fill="rgba(255,205,86,0.5)" stroke="rgb(255,205,86)" stroke-width="1"/><circle cx="773.30" cy="372.71" r="3" fill="rgba(255,205,86,0.5)" stroke="rgb(255,205,86)" stroke-width="1"/><circle cx="792.30" cy="372.71" r="3" fill="rgba(255,205,86,0.5)" stroke="rgb(255,205,86)" stroke-width="1"/><circle cx="811.30" cy="574.30" r="3" fill="rgba(255,205,86,0.5)" stroke="rgb(255,205,86)" stroke-width="1"/><circle cx="830.30" cy="574.30" r="3" fill="rgba(255,205,86,0.5)" stroke="rgb(255,205,86)" stroke-width="1"/><circle cx="849.30" cy="381.88" r="3" fill="rgba(255,205,86,0.5)" stroke="rgb(255,205,86)" stroke-width="1"/><circle cx="868.30" cy="372.71" r="3" fill="rgba(255,205,86,0.5)" stroke="rgb(255,205,86)" stroke-width="1"/><circle cx="887.30" cy="391.04" r="3" fill="rgba(255,205,86,0.5)" stroke="rgb(255,205,86)" stroke-width="1"/><circle cx="906.30" cy="317.74" r="3" fill="rgba(255,205,86,0.5)" stroke="rgb(255,205,86)" stroke-width="1"/><circle cx="925.30" cy="317.74" r="3" fill="rgba(255,205,86,0.5)" stroke="rgb(255,205,86)" stroke-width="1"/><circle cx="944.30" cy="574.30" r="3" fill="rgba(255,205,86,0.5)" stroke="rgb(255,205,86)" stroke-width="1"/><circle cx="963.30" cy="574.30" r="3" fill="rgba(255,205,86,0.5)" stroke="rgb(255,205,86)" stroke-width="1"/><circle cx="982.30" cy="372.71" r="3" fill="rgba(255,205,86,0.5)" stroke="rgb(255,205,86)" stroke-width="1"/><circle cx="1001.30" cy="317.74" r="3" fill="rgba(255,205,86,0.5)" stroke="rgb(255,205,86)" stroke-width="1"/><circle cx="1020.30" cy="317.74" r="3" fill="rgba(255,205,86,0.5)" stroke="rgb(255,205,86)" stroke-width="1"/><circle cx="1039.30" cy="317.74" r="3" fill="rgba(255,205,86,0.5)" stroke="rgb(255,205,86)" stroke-width="1"/><circle cx="1058.30" cy="381.88" r="3" fill="rgba(255,205,86,0.5)" stroke="rgb(255,205,86)" stroke-width="1"/><circle cx="1077.30" cy="574.30" r="3" fill="rgba(255,205,86,0.5)" stroke="rgb(255,205,86)" stroke-width="1"/><circle cx="1096.30" cy="574.30" r="3" fill="rgba(255,205,86,0.5)" stroke="rgb(255,205,86)" stroke-width="1"/><circle cx="1115.30" cy="372.71" r="3" fill="rgba(255,205,86,0.5)" stroke="rgb(255,205,86)" stroke-width="1"/><circle cx="1134.30" cy="336.06" r="3" fill="rgba(255,205,86,0.5)" stroke="rgb(255,205,86)" stroke-width="1"/><circle cx="1153.30" cy="299.41" r="3" fill="rgba(255,205,86,0.5)" stroke="rgb(255,205,86)" stroke-width="1"/><path d="M583.30,317.74 C585.20,318.65 600.40,325.98 602.30,326.90 C604.20,327.82 619.61,334.84 621.30,336.06 C623.41,337.59 638.82,355.10 640.30,354.39 C642.62,353.27 658.77,314.70 659.30,317.74 C662.57,336.69 674.76,550.41 678.30,574.30 C678.56,574.30 697.02,574.30 697.30,574.30 C700.82,552.23 712.97,359.38 716.30,336.06 C716.77,332.80 733.77,307.84 735.30,308.57 C737.57,309.67 752.55,354.81 754.30,354.39 C756.35,353.89 771.53,299.41 773.30,299.41 C775.33,299.90 791.39,356.95 792.30,363.55 C795.19,384.44 807.81,554.96 811.30,574.30 C811.61,574.30 829.94,574.30 830.30,574.30 C833.74,557.69 846.78,409.27 849.30,391.04 C850.58,381.78 865.96,301.67 868.30,299.41 C869.76,299.41 884.89,352.64 887.30,354.39 C888.69,355.39 903.97,328.02 906.30,326.90 C907.77,326.19 924.99,334.06 925.30,336.06 C928.79,358.80 940.78,552.23 944.30,574.30 C944.58,574.30 962.99,574.30 963.30,574.30 C966.79,554.96 979.12,384.25 982.30,363.55 C982.92,359.51 998.98,328.02 1001.30,326.90 C1002.78,326.18 1018.62,343.20 1020.30,345.22 C1022.42,347.78 1036.88,370.96 1039.30,372.71 C1040.68,373.71 1057.97,370.98 1058.30,372.71 C1061.77,391.14 1073.83,555.87 1077.30,574.30 C1077.63,574.30 1096.05,574.30 1096.30,574.30 C1099.85,549.50 1111.92,329.74 1115.30,308.57 C1115.72,305.92 1132.40,333.31 1134.30,336.06 C1136.20,338.81 1151.40,360.80 1153.30,363.55" fill="none" stroke="rgb(255,159,64)" stroke-width="3" stroke-linejoin="round"/><circle cx="583.30" cy="317.74" r="3" fill="rgba(255,159,64,0.5)" stroke="rgb(255,159,64)" stroke-width="1"/><circle cx="602.30" cy="326.90" r="3" fill="rgba(255,159,64,0.5)" stroke="rgb(255,159,64)" stroke-width="1"/><circle cx="621.30" cy="336.06" r="3" fill="rgba(255,159,64,0.5)" stroke="rgb(255,159,64)" stroke-width="1"/><circle cx="640.30" cy="354.39" r="3" fill="rgba(255,159,64,0.5)" stroke="rgb(255,159,64)" stroke-width="1"/><circle cx="659.30" cy="317.74" r="3" fill="rgba(255,159,64,0.5)" stroke="rgb(255,159,64)" stroke-width="1"/><circle cx="678.30" cy="574.30" r="3" fill="rgba(255,159,64,0.5)" stroke="rgb(255,159,64)" stroke-width="1"/><circle cx="697.30" cy="574.30" r="3" fill="rgba(255,159,64,0.5)" stroke="rgb(255,159,64)" stroke-width="1"/><circle cx="716.30" cy="336.06" r="3" fill="rgba(255,159,64,0.5)" stroke="rgb(255,159,64)" stroke-width="1"/><circle cx="735.30" cy="308.57" r="3" fill="rgba(255,159,64,0.5)" stroke="rgb(255,159,64)" stroke-width="1"/><circle cx="754.30" cy="354.39" r="3" fill="rgba(255,159,64,0.5)" stroke="rgb(255,159,64)" stroke-width="1"/><circle cx="773.30" cy="299.41" r="3" fill="rgba(255,159,64,0.5)" stroke="rgb(255,159,64)" stroke-width="1"/><circle cx="792.30" cy="363.55" r="3" fill="rgba(255,159,64,0.5)" stroke="rgb(255,159,64)" stroke-width="1"/><circle cx="811.30" cy="574.30" r="3" fill="rgba(255,159,64,0.5)" stroke="rgb(255,159,64)" stroke-width="1"/><circle cx="830.30" cy="574.30" r="3" fill="rgba(255,159,64,0.5)" stroke="rgb(255,159,64)" stroke-width="1"/><circle cx="849.30" cy="391.04" r="3" fill="rgba(255,159,64,0.5)" stroke="rgb(255,159,64)" stroke-width="1"/><circle cx="868.30" cy="299.41" r="3" fill="rgba(255,159,64,0.5)" stroke="rgb(255,159,64)" stroke-width="1"/><circle cx="887.30" cy="354.39" r="3" fill="rgba(255,159,64,0.5)" stroke="rgb(255,159,64)" stroke-width="1"/><circle cx="906.30" cy="326.90" r="3" fill="rgba(255,159,64,0.5)" stroke="rgb(255,159,64)" stroke-width="1"/><circle cx="925.30" cy="336.06" r="3" fill="rgba(255,159,64,0.5)" stroke="rgb(255,159,64)" stroke-width="1"/><circle cx="944.30" cy="574.30" r="3" fill="rgba(255,159,64,0.5)" stroke="rgb(255,159,64)" stroke-width="1"/><circle cx="963.30" cy="574.30" r="3" fill="rgba(255,159,64,0.5)" stroke="rgb(255,159,64)" stroke-width="1"/><circle cx="982.30" cy="363.55" r="3" fill="rgba(255,159,64,0.5)" stroke="rgb(255,159,64)" stroke-width="1"/><circle cx="1001.30" cy="326.90" r="3" fill="rgba(255,159,64,0.5)" stroke="rgb(255,159,64)" stroke-width="1"/><circle cx="1020.30" cy="345.22" r="3" fill="rgba(255,159,64,0.5)" stroke="rgb(255,159,64)" stroke-width="1"/><circle cx="1039.30" cy="372.71" r="3" fill="rgba(255,159,64,0.5)" stroke="rgb(255,159,64)" stroke-width="1"/><circle cx="1058.30" cy="372.71" r="3" fill="rgba(255,159,64,0.5)" stroke="rgb(255,159,64)" stroke-width="1"/><circle cx="1077.30" cy="574.30" r="3" fill="rgba(255,159,64,0.5)" stroke="rgb(255,159,64)" stroke-width="1"/><circle cx="1096.30" cy="574.30" r="3" fill="rgba(255,159,64,0.5)" stroke="rgb(255,159,64)" stroke-width="1"/><circle cx="1115.30" cy="308.57" r="3" fill="rgba(255,159,64,0.5)" stroke="rgb(255,159,64)" stroke-width="1"/><circle cx="1134.30" cy="336.06" r="3" fill="rgba(255,159,64,0.5)" stroke="rgb(255,159,64)" stroke-width="1"/><circle cx="1153.30" cy="363.55" r="3" fill="rgba(255,159,64,0.5)" stroke="rgb(255,159,64)" stroke-width="1"/><path d="M583.30,391.04 C585.20,391.04 601.46,392.46 602.30,391.04 C605.26,386.04 619.40,326.90 621.30,326.90 C623.20,326.90 638.72,392.19 640.30,391.04 C642.52,389.44 658.34,299.41 659.30,299.41 C662.14,313.09 674.75,548.58 678.30,574.30 C678.55,574.30 696.94,574.30 697.30,574.30 C700.74,557.69 712.86,407.65 716.30,391.04 C716.66,389.33 734.60,392.55 735.30,391.04 C738.40,384.31 752.40,308.57 754.30,308.57 C756.20,308.57 770.90,388.73 773.30,391.04 C774.70,392.39 791.63,341.97 792.30,345.22 C795.43,360.30 807.79,553.14 811.30,574.30 C811.59,574.30 830.03,574.30 830.30,574.30 C833.83,551.32 845.80,350.55 849.30,326.90 C849.60,324.89 866.61,317.33 868.30,317.74 C870.41,318.25 885.82,333.92 887.30,336.06 C889.62,339.42 904.57,373.13 906.30,372.71 C908.37,372.21 924.67,323.54 925.30,326.90 C928.47,343.70 940.77,551.32 944.30,574.30 C944.57,574.30 962.94,574.30 963.30,574.30 C966.74,557.69 979.41,409.15 982.30,391.04 C983.21,385.32 998.51,340.77 1001.30,336.06 C1002.31,334.36 1018.83,328.32 1020.30,326.90 C1022.63,324.65 1037.40,299.41 1039.30,299.41 C1041.20,299.41 1057.85,323.64 1058.30,326.90 C1061.65,351.13 1073.77,551.32 1077.30,574.30 C1077.57,574.30 1096.01,574.30 1096.30,574.30 C1099.81,553.14 1111.79,366.38 1115.30,345.22 C1115.59,343.48 1133.25,346.49 1134.30,345.22 C1137.05,341.91 1151.40,303.99 1153.30,299.41" fill="none" stroke="rgb(255,99,132)" stroke-width="3" stroke-linejoin="round"/><circle cx="583.30" cy="391.04" r="3" fill="rgba(255,99,132,0.5)" stroke="rgb(255,99,132)" stroke-width="1"/><circle cx="602.30" cy="391.04" r="3" fill="rgba(255,99,132,0.5)" stroke="rgb(255,99,132)" stroke-width="1"/><circle cx="621.30" cy="326.90" r="3" fill="rgba(255,99,132,0.5)" stroke="rgb(255,99,132)" stroke-width="1"/><circle cx="640.30" cy="391.04" r="3" fill="rgba(255,99,132,0.5)" stroke="rgb(255,99,132)" stroke-width="1"/><circle cx="659.30" cy="299.41" r="3" fill="rgba(255,99,132,0.5)" stroke="rgb(255,99,132)" stroke-width="1"/><circle cx="678.30" cy="574.30" r="3" fill="rgba(255,99,132,0.5)" stroke="rgb(255,99,132)" stroke-width="1"/><circle cx="697.30" cy="574.30" r="3" fill="rgba(255,99,132,0.5)" stroke="rgb(255,99,132)" stroke-width="1"/><circle cx="716.30" cy="391.04" r="3" fill="rgba(255,99,132,0.5)" stroke="rgb(255,99,132)" stroke-width="1"/><circle cx="735.30" cy="391.04" r="3" fill="rgba(255,99,132,0.5)" stroke="rgb(255,99,132)" stroke-width="1"/><circle cx="754.30" cy="308.57" r="3" fill="rgba(255,99,132,0.5)" stroke="rgb(255,99,132)" stroke-width="1"/><circle cx="773.30" cy="391.04" r="3" fill="rgba(255,99,132,0.5)" stroke="rgb(255,99,132)" stroke-width="1"/><circle cx="792.30" cy="345.22" r="3" fill="rgba(255,99,132,0.5)" stroke="rgb(255,99,132)" stroke-width="1"/><circle cx="811.30" cy="574.30" r="3" fill="rgba(255,99,132,0.5)" stroke="rgb(255,99,132)" stroke-width="1"/><circle cx="830.30" cy="574.30" r="3" fill="rgba(255,99,132,0.5)" stroke="rgb(255,99,132)" stroke-width="1"/><circle cx="849.30" cy="326.90" r="3" fill="rgba(255,99,132,0.5)" stroke="rgb(255,99,132)" stroke-width="1"/><circle cx="868.30" cy="317.74" r="3" fill="rgba(255,99,132,0.5)" stroke="rgb(255,99,132)" stroke-width="1"/><circle cx="887.30" cy="336.06" r="3" fill="rgba(255,99,132,0.5)" stroke="rgb(255,99,132)" stroke-width="1"/><circle cx="906.30" cy="372.71" r="3" fill="rgba(255,99,132,0.5)" stroke="rgb(255,99,132)" stroke-width="1"/><circle cx="925.30" cy="326.90" r="3" fill="rgba(255,99,132,0.5)" stroke="rgb(255,99,132)" stroke-width="1"/><circle cx="944.30" cy="574.30" r="3" fill="rgba(255,99,132,0.5)" stroke="rgb(255,99,132)" stroke-width="1"/><circle cx="963.30" cy="574.30" r="3" fill="rgba(255,99,132,0.5)" stroke="rgb(255,99,132)" stroke-width="1"/><circle cx="982.30" cy="391.04" r="3" fill="rgba(255,99,132,0.5)" stroke="rgb(255,99,132)" stroke-width="1"/><circle cx="1001.30" cy="336.06" r="3" fill="rgba(255,99,132,0.5)" stroke="rgb(255,99,132)" stroke-width="1"/><circle cx="1020.30" cy="326.90" r="3" fill="rgba(255,99,132,0.5)" stroke="rgb(255,99,132)" stroke-width="1"/><circle cx="1039.30" cy="299.41" r="3" fill="rgba(255,99,132,0.5)" stroke="rgb(255,99,132)" stroke-width="1"/><circle cx="1058.30" cy="326.90" r="3" fill="rgba(255,99,132,0.5)" stroke="rgb(255,99,132)" stroke-width="1"/><circle cx="1077.30" cy="574.30" r="3" fill="rgba(255,99,132,0.5)" stroke="rgb(255,99,132)" stroke-width="1"/><circle cx="1096.30" cy="574.30" r="3" fill="rgba(255,99,132,0.5)" stroke="rgb(255,99,132)" stroke-width="1"/><circle cx="1115.30" cy="345.22" r="3" fill="rgba(255,99,132,0.5)" stroke="rgb(255,99,132)" stroke-width="1"/><circle cx="1134.30" cy="345.22" r="3" fill="rgba(255,99,132,0.5)" stroke="rgb(255,99,132)" stroke-width="1"/><circle cx="1153.30" cy="299.41" r="3" fill="rgba(255,99,132,0.5)" stroke="rgb(255,99,132)" stroke-width="1"/><path d="M583.30,308.57 C585.20,310.41 600.82,324.75 602.30,326.90 C604.62,330.25 619.20,363.04 621.30,363.55 C623.00,363.96 637.97,337.19 640.30,336.06 C641.77,335.35 658.98,343.22 659.30,345.22 C662.78,367.05 674.79,553.14 678.30,574.30 C678.59,574.30 697.01,574.30 697.30,574.30 C700.81,553.14 712.79,366.38 716.30,345.22 C716.59,343.48 733.71,344.46 735.30,345.22 C737.51,346.29 753.22,364.85 754.30,363.55 C757.02,360.27 770.34,304.41 773.30,299.41 C774.14,299.41 792.05,299.41 792.30,299.41 C795.85,325.13 807.75,548.58 811.30,574.30 C811.55,574.30 829.97,574.30 830.30,574.30 C833.77,555.87 845.94,392.17 849.30,372.71 C849.74,370.18 866.40,356.22 868.30,354.39 C870.20,352.56 885.98,335.11 887.30,336.06 C889.78,337.86 903.82,380.08 906.30,381.88 C907.62,382.83 924.88,361.42 925.30,363.55 C928.68,380.66 940.81,554.96 944.30,574.30 C944.61,574.30 962.99,574.30 963.30,574.30 C966.79,554.96 979.41,384.44 982.30,363.55 C983.21,356.95 998.58,302.70 1001.30,299.41 C1002.38,299.41 1018.09,316.67 1020.30,317.74 C1021.89,318.50 1037.50,317.30 1039.30,317.74 C1041.30,318.22 1058.00,324.89 1058.30,326.90 C1061.80,350.55 1073.77,551.32 1077.30,574.30 C1077.57,574.30 1095.96,574.30 1096.30,574.30 C1099.76,556.78 1111.87,398.40 1115.30,381.88 C1115.67,380.07 1133.47,392.44 1134.30,391.04 C1137.27,386.02 1151.40,325.07 1153.30,317.74" fill="none" stroke="rgb(54,162,235)" stroke-width="3" stroke-linejoin="round"/><circle cx="583.30" cy="308.57" r="3" fill="rgba(54,162,235,0.5)" stroke="rgb(54,162,235)" stroke-width="1"/><circle cx="602.30" cy="326.90" r="3" fill="rgba(54,162,235,0.5)" stroke="rgb(54,162,235)" stroke-width="1"/><circle cx="621.30" cy="363.55" r="3" fill="rgba(54,162,235,0.5)" stroke="rgb(54,162,235)" stroke-width="1"/><circle cx="640.30" cy="336.06" r="3" fill="rgba(54,162,235,0.5)" stroke="rgb(54,162,235)" stroke-width="1"/><circle cx="659.30" cy="345.22" r="3" fill="rgba(54,162,235,0.5)" stroke="rgb(54,162,235)" stroke-width="1"/><circle cx="678.30" cy="574.30" r="3" fill="rgba(54,162,235,0.5)" stroke="rgb(54,162,235)" stroke-width="1"/><circle cx="697.30" cy="574.30" r="3" fill="rgba(54,162,235,0.5)" stroke="rgb(54,162,235)" stroke-width="1"/><circle cx="716.30" cy="345.22" r="3" fill="rgba(54,162,235,0.5)" stroke="rgb(54,162,235)" stroke-width="1"/><circle cx="735.30" cy="345.22" r="3" fill="rgba(54,162,235,0.5)" stroke="rgb(54,162,235)" stroke-width="1"/><circle cx="754.30" cy="363.55" r="3" fill="rgba(54,162,235,0.5)" stroke="rgb(54,162,235)" stroke-width="1"/><circle cx="773.30" cy="299.41" r="3" fill="rgba(54,162,235,0.5)" stroke="rgb(54,162,235)" stroke-width="1"/><circle cx="792.30" cy="299.41" r="3" fill="rgba(54,162,235,0.5)" stroke="rgb(54,162,235)" stroke-width="1"/><circle cx="811.30" cy="574.30" r="3" fill="rgba(54,162,235,0.5)" stroke="rgb(54,162,235)" stroke-width="1"/><circle cx="830.30" cy="574.30" r="3" fill="rgba(54,162,235,0.5)" stroke="rgb(54,162,235)" stroke-width="1"/><circle cx="849.30" cy="372.71" r="3" fill="rgba(54,162,235,0.5)" stroke="rgb(54,162,235)" stroke-width="1"/><circle cx="868.30" cy="354.39" r="3" fill="rgba(54,162,235,0.5)" stroke="rgb(54,162,235)" stroke-width="1"/><circle cx="887.30" cy="336.06" r="3" fill="rgba(54,162,235,0.5)" stroke="rgb(54,162,235)" stroke-width="1"/><circle cx="906.30" cy="381.88" r="3" fill="rgba(54,162,235,0.5)" stroke="rgb(54,162,235)" stroke-width="1"/><circle cx="925.30" cy="363.55" r="3" fill="rgba(54,162,235,0.5)" stroke="rgb(54,162,235)" stroke-width="1"/><circle cx="944.30" cy="574.30" r="3" fill="rgba(54,162,235,0.5)" stroke="rgb(54,162,235)" stroke-width="1"/><circle cx="963.30" cy="574.30" r="3" fill="rgba(54,162,235,0.5)" stroke="rgb(54,162,235)" stroke-width="1"/><circle cx="982.30" cy="363.55" r="3" fill="rgba(54,162,235,0.5)" stroke="rgb(54,162,235)" stroke-width="1"/><circle cx="1001.30" cy="299.41" r="3" fill="rgba(54,162,235,0.5)" stroke="rgb(54,162,235)" stroke-width="1"/><circle cx="1020.30" cy="317.74" r="3" fill="rgba(54,162,235,0.5)" stroke="rgb(54,162,235)" stroke-width="1"/><circle cx="1039.30" cy="317.74" r="3" fill="rgba(54,162,235,0.5)" stroke="rgb(54,162,235)" stroke-width="1"/><circle cx="1058.30" cy="326.90" r="3" fill="rgba(54,162,235,0.5)" stroke="rgb(54,162,235)" stroke-width="1"/><circle cx="1077.30" cy="574.30" r="3" fill="rgba(54,162,235,0.5)" stroke="rgb(54,162,235)" stroke-width="1"/><circle cx="1096.30" cy="574.30" r="3" fill="rgba(54,162,235,0.5)" stroke="rgb(54,162,235)" stroke-width="1"/><circle cx="1115.30" cy="381.88" r="3" fill="rgba(54,162,235,0.5)" stroke="rgb(54,162,235)" stroke-width="1"/><circle cx="1134.30" cy="391.04" r="3" fill="rgba(54,162,235,0.5)" stroke="rgb(54,162,235)" stroke-width="1"/><circle cx="1153.30" cy="317.74" r="3" fill="rgba(54,162,235,0.5)" stroke="rgb(54,162,235)" stroke-width="1"/><text x="846" y="266.97" text-anchor="middle" font-size="12.7" font-weight="700" fill="#1c1c1c">Total Transactions per Period</text><rect x="624.40" y="280.8" width="33.8" height="9.8" fill="rgba(54,162,235,0.5)" stroke="rgb(54,162,235)" stroke-width="2.4"/><text x="663.70" y="288.64" font-size="10.3" fill="#444">Branch A</text><rect x="714.80" y="280.8" width="33.8" height="9.8" fill="rgba(255,99,132,0.5)" stroke="rgb(255,99,132)" stroke-width="2.4"/><text x="754.10" y="288.64" font-size="10.3" fill="#444">Branch B</text><rect x="805.20" y="280.8" width="33.8" height="9.8" fill="rgba(255,159,64,0.5)" stroke="rgb(255,159,64)" stroke-width="2.4"/><text x="844.50" y="288.64" font-size="10.3" fill="#444">Branch C</text><rect x="895.60" y="280.8" width="33.8" height="9.8" fill="rgba(255,205,86,0.5)" stroke="rgb(255,205,86)" stroke-width="2.4"/><text x="934.90" y="288.64" font-size="10.3" fill="#444">Branch D</text><rect x="986.00" y="280.8" width="33.8" height="9.8" fill="rgba(75,192,192,0.5)" stroke="rgb(75,192,192)" stroke-width="2.4"/><text x="1025.30" y="288.64" font-size="10.3" fill="#444">Branch E</text><text x="868.3" y="675.84" text-anchor="middle" font-size="10" font-weight="700" fill="#222">Date</text><line x1="1274.60" y1="299.60" x2="1274.60" y2="646.00" stroke="#e6e9ef" stroke-width="1"/><text x="1274.60" y="658.14" text-anchor="middle" font-size="10.3" fill="#4a4a4a">0</text><line x1="1356.30" y1="299.60" x2="1356.30" y2="646.00" stroke="#e6e9ef" stroke-width="1"/><text x="1356.30" y="658.14" text-anchor="middle" font-size="10.3" fill="#4a4a4a">50</text><line x1="1438.00" y1="299.60" x2="1438.00" y2="646.00" stroke="#e6e9ef" stroke-width="1"/><text x="1438.00" y="658.14" text-anchor="middle" font-size="10.3" fill="#4a4a4a">100</text><line x1="1519.70" y1="299.60" x2="1519.70" y2="646.00" stroke="#e6e9ef" stroke-width="1"/><text x="1519.70" y="658.14" text-anchor="middle" font-size="10.3" fill="#4a4a4a">150</text><line x1="1601.40" y1="299.60" x2="1601.40" y2="646.00" stroke="#e6e9ef" stroke-width="1"/><text x="1601.40" y="658.14" text-anchor="middle" font-size="10.3" fill="#4a4a4a">200</text><line x1="1683.10" y1="299.60" x2="1683.10" y2="646.00" stroke="#e6e9ef" stroke-width="1"/><text x="1683.10" y="658.14" text-anchor="middle" font-size="10.3" fill="#4a4a4a">250</text><line x1="1764.80" y1="299.60" x2="1764.80" y2="646.00" stroke="#e6e9ef" stroke-width="1"/><text x="1764.80" y="658.14" text-anchor="middle" font-size="10.3" fill="#4a4a4a">300</text><line x1="1846.50" y1="299.60" x2="1846.50" y2="646.00" stroke="#e6e9ef" stroke-width="1"/><text x="1846.50" y="658.14" text-anchor="middle" font-size="10.3" fill="#4a4a4a">350</text><line x1="1268.00" y1="299.60" x2="1846.50" y2="299.60" stroke="#e6e9ef" stroke-width="1"/><line x1="1268.00" y1="367.68" x2="1846.50" y2="367.68" stroke="#e6e9ef" stroke-width="1"/><line x1="1268.00" y1="435.76" x2="1846.50" y2="435.76" stroke="#e6e9ef" stroke-width="1"/><line x1="1268.00" y1="503.84" x2="1846.50" y2="503.84" stroke="#e6e9ef" stroke-width="1"/><line x1="1268.00" y1="571.92" x2="1846.50" y2="571.92" stroke="#e6e9ef" stroke-width="1"/><line x1="1268.00" y1="640.00" x2="1846.50" y2="640.00" stroke="#e6e9ef" stroke-width="1"/><line x1="1274.60" y1="299.60" x2="1274.60" y2="640.00" stroke="#dcdfe5" stroke-width="1"/><line x1="1268.00" y1="640.00" x2="1846.50" y2="640.00" stroke="#d6d9df" stroke-width="1"/><rect x="1275.10" y="309.13" width="195.58" height="49.02" fill="rgba(54,162,235,0.45)"/><text x="1265.40" y="336.48" text-anchor="end" font-size="10.3" fill="#333">Branch A</text><rect x="1275.10" y="377.21" width="64.86" height="49.02" fill="rgba(54,162,235,0.45)"/><text x="1265.40" y="404.56" text-anchor="end" font-size="10.3" fill="#333">Branch B</text><rect x="1275.10" y="445.29" width="522.38" height="49.02" fill="rgba(54,162,235,0.45)"/><text x="1265.40" y="472.64" text-anchor="end" font-size="10.3" fill="#333">Branch C</text><rect x="1275.10" y="513.37" width="162.90" height="49.02" fill="rgba(54,162,235,0.45)"/><text x="1265.40" y="540.72" text-anchor="end" font-size="10.3" fill="#333">Branch D</text><rect x="1275.10" y="581.45" width="367.15" height="49.02" fill="rgba(54,162,235,0.45)"/><text x="1265.40" y="608.80" text-anchor="end" font-size="10.3" fill="#333">Branch E</text><text x="1538.6" y="266.97" text-anchor="middle" font-size="12.7" font-weight="700" fill="#1c1c1c">Total Transactions Accumulated</text><rect x="1480.4" y="280.7" width="34.4" height="10" fill="rgba(54,162,235,0.45)"/><text x="1520.5" y="289.14" font-size="10" fill="#555">Total Transaction</text><text x="1560.6" y="675.84" text-anchor="middle" font-size="10" font-weight="700" fill="#222">Total Transactions</text></svg>
<div class="a" style="left:508px;top:718px;width:1368.5px;height:300px;background:#fff;border:1px solid #e4e8f0;border-radius:6px;box-shadow:0 1px 3px rgba(30,40,70,0.05)"></div>
<div class="t " style="left:527.60px;top:746.50px;font-size:17px;line-height:22px;color:#141b2d;font-weight:700;">Branch List</div>
<div class="a" style="left:1790.5px;top:743px;width:24px;height:24px;border-radius:4px;background:#fde047"></div>
<svg class="a" style="left:1790.5px;top:743px;" width="24" height="24" viewBox="0 0 24 24">
<g fill="none" stroke="#fff" stroke-width="1.6" stroke-linecap="round" stroke-linejoin="round" transform="translate(24,0) scale(-1,1)">
<path d="M7.2 11 A5 5 0 0 1 16.4 9.6"/><polyline points="16.8,6.8 16.6,9.8 13.7,9.8"/>
<path d="M16.8 13 A5 5 0 0 1 7.6 14.4"/><polyline points="7.2,17.2 7.4,14.2 10.3,14.2"/>
</g></svg>
<div class="a" style="left:1828.4px;top:743px;width:24px;height:24px;border-radius:4px;background:#22c55e"></div>
<svg class="a" style="left:1828.4px;top:743px;" width="24" height="24" viewBox="0 0 24 24"><g stroke="#fff" stroke-width="2" stroke-linecap="round"><line x1="12" y1="6.6" x2="12" y2="17.6"/><line x1="6.6" y1="12.1" x2="17.6" y2="12.1"/></g></svg>
<div class="a" style="left:526px;top:788px;width:1332.5px;height:33.5px;background:#f6f7f9"></div>
<div class="t " style="left:537.20px;top:798.20px;font-size:11.8px;line-height:15px;color:#3a4152;font-weight:700;">NO.</div>
<div class="t " style="left:601.00px;top:798.20px;font-size:11.8px;line-height:15px;color:#3a4152;font-weight:700;">BRANCH NAME</div>
<div class="t " style="left:878.10px;top:798.20px;font-size:11.8px;line-height:15px;color:#3a4152;font-weight:700;">ADDRESS</div>
<div class="t " style="left:1134.60px;top:798.20px;font-size:11.8px;line-height:15px;color:#3a4152;font-weight:700;">STATUS</div>
<div class="t " style="left:1373.70px;top:798.20px;font-size:11.8px;line-height:15px;color:#3a4152;font-weight:700;">VALID UNTIL</div>
<div class="t " style="left:1639.50px;top:798.20px;font-size:11.8px;line-height:15px;color:#3a4152;font-weight:700;">ACTION</div>
<div class="t r" style="left:537.20px;top:839.60px;font-size:14px;line-height:18px;color:#6b7280;">1</div>
<div class="t r" style="left:601.00px;top:839.60px;font-size:14px;line-height:18px;color:#6b7280;">Branch A</div>
<div class="t r" style="left:878.10px;top:839.60px;font-size:14px;line-height:18px;color:#6b7280;">Bandung</div>
<div class="t r" style="left:1134.60px;top:839.60px;font-size:14px;line-height:18px;color:#22c55e;">Active</div>
<div class="t r" style="left:1373.70px;top:839.60px;font-size:14px;line-height:18px;color:#6b7280;">12 Dec 2024</div>
<div class="a" style="left:1646.3px;top:838.9px;width:20.6px;height:20.4px;border-radius:4.5px;background:#eab308"></div>
<svg class="a" style="left:1646.3px;top:838.9px;" width="20.6" height="20.4" viewBox="0 0 20.6 20.4"><g stroke="#fff"><line x1="5.9" y1="14.7" x2="12.5" y2="8.1" stroke-width="3.2"/><line x1="13.4" y1="7.2" x2="15.2" y2="5.4" stroke-width="3.2"/></g><circle cx="5.9" cy="14.7" r="1.6" fill="#fff"/></svg>
<div class="t r" style="left:537.20px;top:894.00px;font-size:14px;line-height:18px;color:#6b7280;">2</div>
<div class="t " style="left:601.00px;top:894.00px;font-size:14px;line-height:18px;color:#ef4444;font-weight:700;">Branch B</div>
<div class="t " style="left:878.10px;top:894.00px;font-size:14px;line-height:18px;color:#ef4444;font-weight:700;">Jakarta</div>
<div class="t " style="left:1134.60px;top:894.00px;font-size:14px;line-height:18px;color:#ef4444;font-weight:700;">Expired</div>
<div class="t " style="left:1373.70px;top:894.00px;font-size:14px;line-height:18px;color:#ef4444;font-weight:700;">1 Jan 2025</div>
<div class="a" style="left:1646.3px;top:893.3px;width:20.6px;height:20.4px;border-radius:4.5px;background:#eab308"></div>
<svg class="a" style="left:1646.3px;top:893.3px;" width="20.6" height="20.4" viewBox="0 0 20.6 20.4"><g stroke="#fff"><line x1="5.9" y1="14.7" x2="12.5" y2="8.1" stroke-width="3.2"/><line x1="13.4" y1="7.2" x2="15.2" y2="5.4" stroke-width="3.2"/></g><circle cx="5.9" cy="14.7" r="1.6" fill="#fff"/></svg>
<div class="t r" style="left:537.20px;top:948.50px;font-size:14px;line-height:18px;color:#6b7280;">3</div>
<div class="t r" style="left:601.00px;top:948.50px;font-size:14px;line-height:18px;color:#e8b10c;">Branch C</div>
<div class="t r" style="left:878.10px;top:948.50px;font-size:14px;line-height:18px;color:#e8b10c;">Semarang</div>
<div class="t r" style="left:1134.60px;top:948.50px;font-size:14px;line-height:18px;color:#e8b10c;">Active</div>
<div class="t r" style="left:1373.70px;top:948.50px;font-size:14px;line-height:18px;color:#e8b10c;">1 Sep 2024</div>
<div class="a" style="left:1646.3px;top:947.8px;width:20.6px;height:20.4px;border-radius:4.5px;background:#eab308"></div>
<svg class="a" style="left:1646.3px;top:947.8px;" width="20.6" height="20.4" viewBox="0 0 20.6 20.4"><g stroke="#fff"><line x1="5.9" y1="14.7" x2="12.5" y2="8.1" stroke-width="3.2"/><line x1="13.4" y1="7.2" x2="15.2" y2="5.4" stroke-width="3.2"/></g><circle cx="5.9" cy="14.7" r="1.6" fill="#fff"/></svg>
<div class="a" style="left:2px;top:990px;width:1914px;height:88px;background:#fff;border-bottom-left-radius:34px;border-bottom-right-radius:34px"></div>
<div class="a" style="left:0;top:0;width:1918px;height:1080px;border-radius:36px;border:2px solid #57575c;border-bottom-width:3px;pointer-events:none"></div>
</body></html>
